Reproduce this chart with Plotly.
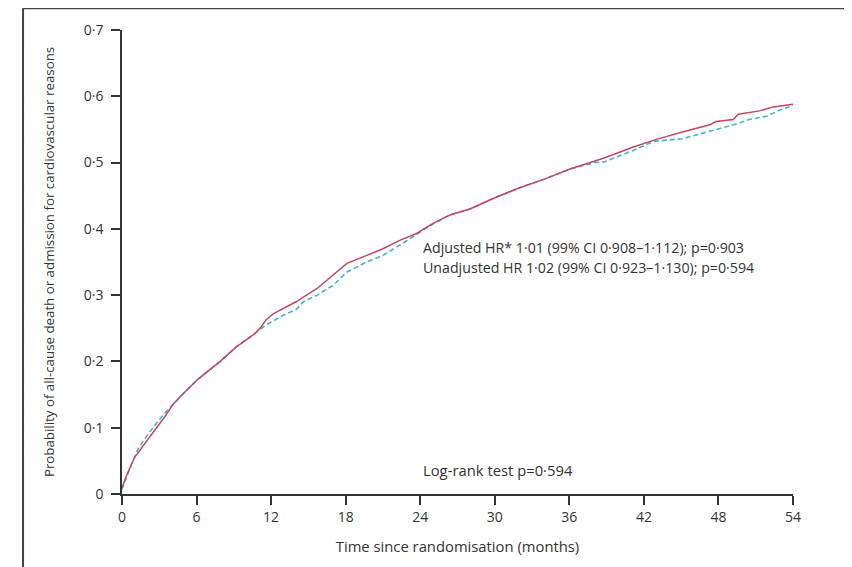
import plotly.graph_objects as go

# Intervention group (solid red)
red_months = [0, 0.3, 1, 2, 2.7, 3.5, 4.1, 4.8, 6.1, 7.9, 9.2, 10.7, 11.2, 11.6, 12.2, 13, 14, 15.7,
              17, 18.1, 19.7, 21, 22.4, 23.7, 25, 26.4, 28, 30, 32, 34, 36, 38, 38.8, 41.1, 43,
              45.1, 47.3, 47.8, 49.2, 49.6, 51.3, 52.4, 54]
red_prob = [0.009, 0.025, 0.055, 0.08, 0.099, 0.118, 0.135, 0.149, 0.173, 0.2, 0.222, 0.242, 0.252,
            0.263, 0.272, 0.28, 0.29, 0.31, 0.33, 0.348, 0.36, 0.37, 0.383, 0.393, 0.408, 0.421,
            0.43, 0.447, 0.462, 0.475, 0.49, 0.502, 0.507, 0.523, 0.535, 0.546, 0.557, 0.562,
            0.565, 0.573, 0.578, 0.584, 0.588]

# Control group (dashed blue)
blue_months = [0, 0.65, 1.37, 2.45, 3.3, 4.4, 4.8, 6.1, 7.9, 9.2, 10.7, 11.6, 13, 14, 14.6, 15.7,
               17, 18.1, 19.7, 21, 22.4, 23.7, 25, 26.4, 28, 30, 32, 34, 36, 38, 38.8, 41.1, 42.8,
               45.1, 47.3, 49.2, 50.5, 51.9, 52.9, 54]
blue_prob = [0.007, 0.04, 0.071, 0.099, 0.119, 0.142, 0.149, 0.173, 0.2, 0.222, 0.242, 0.255, 0.27,
             0.278, 0.29, 0.30, 0.315, 0.335, 0.35, 0.36, 0.376, 0.391, 0.407, 0.421, 0.43, 0.447,
             0.462, 0.475, 0.49, 0.5, 0.501, 0.518, 0.532, 0.536, 0.547, 0.557, 0.565, 0.570,
             0.579, 0.586]

x_ticks = [0, 6, 12, 18, 24, 30, 36, 42, 48, 54]
y_ticks = [0, 0.1, 0.2, 0.3, 0.4, 0.5, 0.6, 0.7]
y_tick_labels = ["0", "0·1", "0·2", "0·3", "0·4", "0·5", "0·6", "0·7"]

FONT = "Open Sans"
TXT = "#333333"

fig = go.Figure()
fig.add_trace(go.Scatter(x=blue_months, y=blue_prob, mode="lines",
                         line=dict(color="#45b2d3", width=1.6, dash="5px,3px"),
                         showlegend=False, cliponaxis=False))
fig.add_trace(go.Scatter(x=red_months, y=red_prob, mode="lines",
                         line=dict(color="#c4475d", width=1.5),
                         showlegend=False, cliponaxis=False))

fig.update_layout(
    width=844, height=559,
    margin=dict(l=114, r=59, t=22, b=73),
    paper_bgcolor="white", plot_bgcolor="white",
    font=dict(family=FONT, size=13, color=TXT),
    xaxis=dict(range=[0, 54], tickvals=x_ticks, showgrid=False, zeroline=False,
               showline=True, linecolor="#333333", linewidth=1.5,
               ticks="outside", ticklen=9, tickwidth=1.5, tickcolor="#333333",
               tickfont=dict(family=FONT, size=14, color=TXT),
               title=dict(text="Time since randomisation (months)", standoff=17,
                          font=dict(family=FONT, size=14.8, color=TXT))),
    yaxis=dict(range=[0, 0.7], tickvals=y_ticks, ticktext=y_tick_labels, showgrid=False,
               zeroline=False, showline=True, linecolor="#333333", linewidth=1.5,
               ticks="outside", ticklen=9, tickwidth=1.5, tickcolor="#333333",
               ticklabelstandoff=5,
               tickfont=dict(family=FONT, size=14, color=TXT),
               title=dict(text="Probability of all-cause death or admission for cardiovascular reasons",
                          standoff=26, font=dict(family=FONT, size=13.3, color=TXT))),
)

fig.add_annotation(x=24.1, y=0.372, xref="x", yref="y", xanchor="left", yanchor="middle",
                   text="Adjusted HR* 1·01 (99% CI 0·908–1·112); p=0·903",
                   showarrow=False, font=dict(family=FONT, size=14.2, color=TXT))
fig.add_annotation(x=24.1, y=0.342, xref="x", yref="y", xanchor="left", yanchor="middle",
                   text="Unadjusted HR 1·02 (99% CI 0·923–1·130); p=0·594",
                   showarrow=False, font=dict(family=FONT, size=14.2, color=TXT))
fig.add_annotation(x=24.1, y=0.036, xref="x", yref="y", xanchor="left", yanchor="middle",
                   text="Log-rank test p=0·594",
                   showarrow=False, font=dict(family=FONT, size=14.8, color=TXT))

# outer frame (left and top edges)
fig.add_shape(type="line", xref="paper", yref="paper", x0=-0.1475, x1=-0.1475, y0=-0.16, y1=1.047,
              line=dict(color="#444444", width=2))
fig.add_shape(type="line", xref="paper", yref="paper", x0=-0.1475, x1=1.09, y0=1.047, y1=1.047,
              line=dict(color="#444444", width=2))

fig.write_html("out.html")
